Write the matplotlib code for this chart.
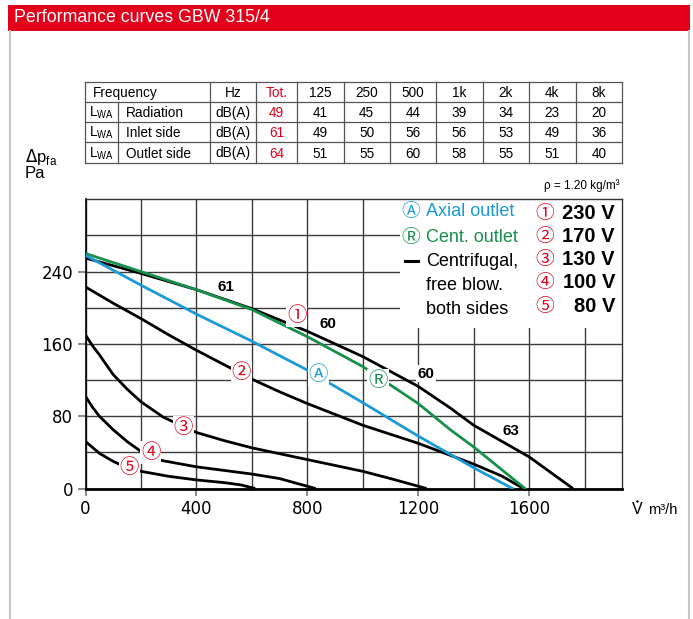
import numpy as np
import matplotlib
matplotlib.use('Agg')
import matplotlib.pyplot as plt
from matplotlib.patches import Rectangle
from matplotlib.lines import Line2D
from matplotlib.transforms import IdentityTransform

# --- sound power table ---
bands = ['125', '250', '500', '1k', '2k', '4k', '8k']
row_names = ['Radiation', 'Inlet side', 'Outlet side']
tot_db = [49, 61, 64]
band_db = [[41, 45, 44, 39, 34, 23, 20],
           [49, 50, 56, 56, 53, 49, 36],
           [51, 55, 60, 58, 55, 51, 40]]

# --- fan curves, airflow m3/h vs pressure Pa ---
q_230 = [0, 200, 400, 600, 800, 1000, 1200, 1316, 1400, 1600, 1758]
p_230 = [255, 238, 220, 199, 174, 146, 113, 89, 70, 35, 0]
q_170 = [0, 100, 200, 300, 400, 500, 600, 700, 800, 1000, 1200, 1400, 1500, 1580]
p_170 = [223, 205, 188, 170, 153, 137, 121, 107, 94, 70, 50, 27, 14, 0]
q_130 = [0, 25, 50, 100, 150, 200, 280, 400, 500, 600, 800, 1000, 1100, 1230]
p_130 = [170, 158, 148, 126, 110, 96, 79, 62, 53, 45, 32, 19, 11, 0]
q_100 = [0, 25, 50, 100, 150, 200, 275, 400, 500, 600, 700, 770, 830]
p_100 = [102, 90, 80, 65, 52, 41, 31, 24, 20, 16, 11, 5, 0]
q_80 = [0, 50, 100, 150, 200, 300, 400, 500, 560, 612]
p_80 = [52, 39, 30, 23, 19, 13.5, 9.5, 6.5, 4, 0]
q_axial = [0, 200, 400, 600, 800, 1000, 1200, 1400, 1540]
p_axial = [258, 225, 193, 163, 131, 95, 58, 23, 0]
q_cent = [0, 200, 400, 600, 800, 1000, 1200, 1316, 1400, 1585]
p_cent = [260, 240, 220, 198, 168, 135, 94, 65, 46, 0]

# LwA values written on the 230 V curve
lwa_text = ['61', '60', '60', '63']
lwa_pos = [(506, 223), (874, 182), (1228, 127), (1536, 64)]

voltages = ['230 V', '170 V', '130 V', '100 V', '80 V']
volt_marks = ['\u2460', '\u2461', '\u2462', '\u2463', '\u2464']
volt_mark_pos = [(762, 191), (561, 128), (353, 68), (236, 40), (157, 23)]

RED = '#e2001a'
BLUE = '#1a9ad6'
GREEN = '#16904a'
GRID = '#3c3c3c'
SYM = ['Noto Sans CJK JP', 'DejaVu Sans']

plt.rcParams['font.family'] = ['Liberation Sans', 'DejaVu Sans']

W, H = 693, 619
fig = plt.figure(figsize=(W / 100, H / 100), dpi=100)
T = IdentityTransform()


def pline(xs, ys, **kw):
    # line in pixel coords, y measured from the top
    fig.add_artist(Line2D(xs, [H - y for y in ys], transform=T, **kw))


def ptext(x, y, s, **kw):
    fig.text(x / W, 1 - y / H, s, **kw)


# panel frame and title band
pline([10, 10], [31, 619], color='#c8c8c8', lw=1.5)
pline([689, 689], [31, 619], color='#c8c8c8', lw=1.5)
fig.add_artist(Rectangle((8, H - 31), 682, 26, transform=T, fc=RED, ec='none'))
ptext(14, 18, 'Performance curves GBW 315/4', color='white', fontsize=12.8, va='center')

# table grid
col_x = [85, 210, 256, 297, 343.5, 390, 436, 482.5, 529, 575.5, 622]
row_y = [82, 102, 122, 142, 163]
tcol = '#555555'
for y in row_y:
    pline([col_x[0], col_x[-1]], [y, y], color=tcol, lw=0.9)
for x in col_x:
    pline([x, x], [row_y[0], row_y[-1]], color=tcol, lw=0.9)
pline([118, 118], [row_y[1], row_y[-1]], color=tcol, lw=0.9)

fs_t = 9.8
mid_y = [(row_y[i] + row_y[i + 1]) / 2 + 1 for i in range(4)]
centers = [(col_x[i] + col_x[i + 1]) / 2 for i in range(len(col_x) - 1)]
ptext(93, mid_y[0], 'Frequency', fontsize=fs_t, va='center')
ptext(centers[1], mid_y[0], 'Hz', fontsize=fs_t, va='center', ha='center')
ptext(centers[2], mid_y[0], 'Tot.', fontsize=fs_t, va='center', ha='center', color=RED)
for j, b in enumerate(bands):
    ptext(centers[3 + j], mid_y[0], b, fontsize=fs_t, va='center', ha='center')
for i, name in enumerate(row_names):
    yy = mid_y[i + 1]
    ptext(101.5, yy, r'L$_{\mathregular{WA}}$', fontsize=fs_t, va='center', ha='center')
    ptext(126, yy, name, fontsize=fs_t, va='center')
    ptext(centers[1], yy, 'dB(A)', fontsize=fs_t, va='center', ha='center')
    ptext(centers[2], yy, str(tot_db[i]), fontsize=fs_t, va='center', ha='center', color=RED)
    for j, v in enumerate(band_db[i]):
        ptext(centers[3 + j], yy, str(v), fontsize=fs_t, va='center', ha='center')

# axis titles
ptext(25, 157, r'$\Delta$p$_{\mathregular{fa}}$', fontsize=12, va='center')
ptext(25, 174, 'Pa', fontsize=12, va='center')
ptext(632, 510, 'V', fontsize=11.5, va='center')
pline([636.5], [500.5], marker='o', ms=1.8, color='black', mec='none')  # flow-rate dot
ptext(648, 510, 'm\u00b3/h', fontsize=10.5, va='center')
ptext(620, 186, '\u03c1 = 1.20 kg/m\u00b3', fontsize=8.5, va='center', ha='right')

# chart area
ax = fig.add_axes([85.5 / W, (H - 488.5) / H, (622 - 85.5) / W, (488.5 - 199.3) / H])
ax.set_xlim(0, 1935)
ax.set_ylim(0, 320)
ax.set_xticks([0, 400, 800, 1200, 1600])
ax.set_yticks([0, 80, 160, 240])
ax.set_xticks(np.arange(0, 1935, 200), minor=True)
ax.set_yticks(np.arange(0, 320, 40), minor=True)
ax.grid(which='both', color=GRID, lw=1.0)
ax.set_axisbelow(True)
ax.tick_params(which='minor', length=0)
ax.tick_params(which='major', color='#777777', width=1.2, labelsize=12, pad=3)
ax.tick_params(axis='x', length=5)
ax.tick_params(axis='y', length=6)
for lab in ax.get_xticklabels() + ax.get_yticklabels():
    lab.set_family('DejaVu Sans')
ax.spines['bottom'].set_linewidth(2.0)
ax.spines['left'].set_linewidth(1.2)
for s in ['top', 'right']:
    ax.spines[s].set_linewidth(1.0)
    ax.spines[s].set_color('#333333')

# white area behind the key
ax.add_patch(Rectangle((1136, 178), 820, 150, fc='white', ec='none', zorder=1))

for q, p in [(q_230, p_230), (q_170, p_170), (q_130, p_130), (q_100, p_100), (q_80, p_80)]:
    ax.plot(q, p, color='black', lw=2.0, zorder=2, solid_capstyle='butt')
ax.plot(q_cent, p_cent, color=GREEN, lw=2.0, zorder=3)
ax.plot(q_axial, p_axial, color=BLUE, lw=2.0, zorder=4)

box = dict(fc='white', ec='none', pad=0.5)
for s, (x, y) in zip(lwa_text, lwa_pos):
    ax.text(x, y, s, fontsize=11, fontweight='bold', ha='center', va='center',
            bbox=dict(fc='white', ec='none', pad=1.0), zorder=5)
for s, (x, y) in zip(volt_marks, volt_mark_pos):
    ax.text(x, y, s, fontsize=14, color=RED, ha='center', va='center',
            family=SYM, bbox=box, zorder=5)
ax.text(840, 126, '\u24b6', fontsize=14, color=BLUE, ha='center', va='center',
        family=SYM, bbox=box, zorder=5)
ax.text(1055, 120, '\u24c7', fontsize=14, color=GREEN, ha='center', va='center',
        family=SYM, bbox=box, zorder=5)

# key
ptext(401, 212, '\u24b6', fontsize=13.5, color=BLUE, va='center', family=SYM)
ptext(426, 212, 'Axial outlet', fontsize=13, color=BLUE, va='center')
ptext(401, 237, '\u24c7', fontsize=13.5, color=GREEN, va='center', family=SYM)
ptext(426, 237, 'Cent. outlet', fontsize=13, color=GREEN, va='center')
pline([405, 418], [261, 261], color='black', lw=2.2)
ptext(426, 261, 'Centrifugal,', fontsize=13, va='center')
ptext(426, 285, 'free blow.', fontsize=13, va='center')
ptext(426, 309, 'both sides', fontsize=13, va='center')
for i, (m, v) in enumerate(zip(volt_marks, voltages)):
    yy = 213 + i * 23.3
    ptext(535, yy, m, fontsize=13.5, color=RED, va='center', family=SYM)
    ptext(615, yy, v, fontsize=14.5, fontweight='bold', va='center', ha='right')

fig.savefig('out.png', dpi=100)
